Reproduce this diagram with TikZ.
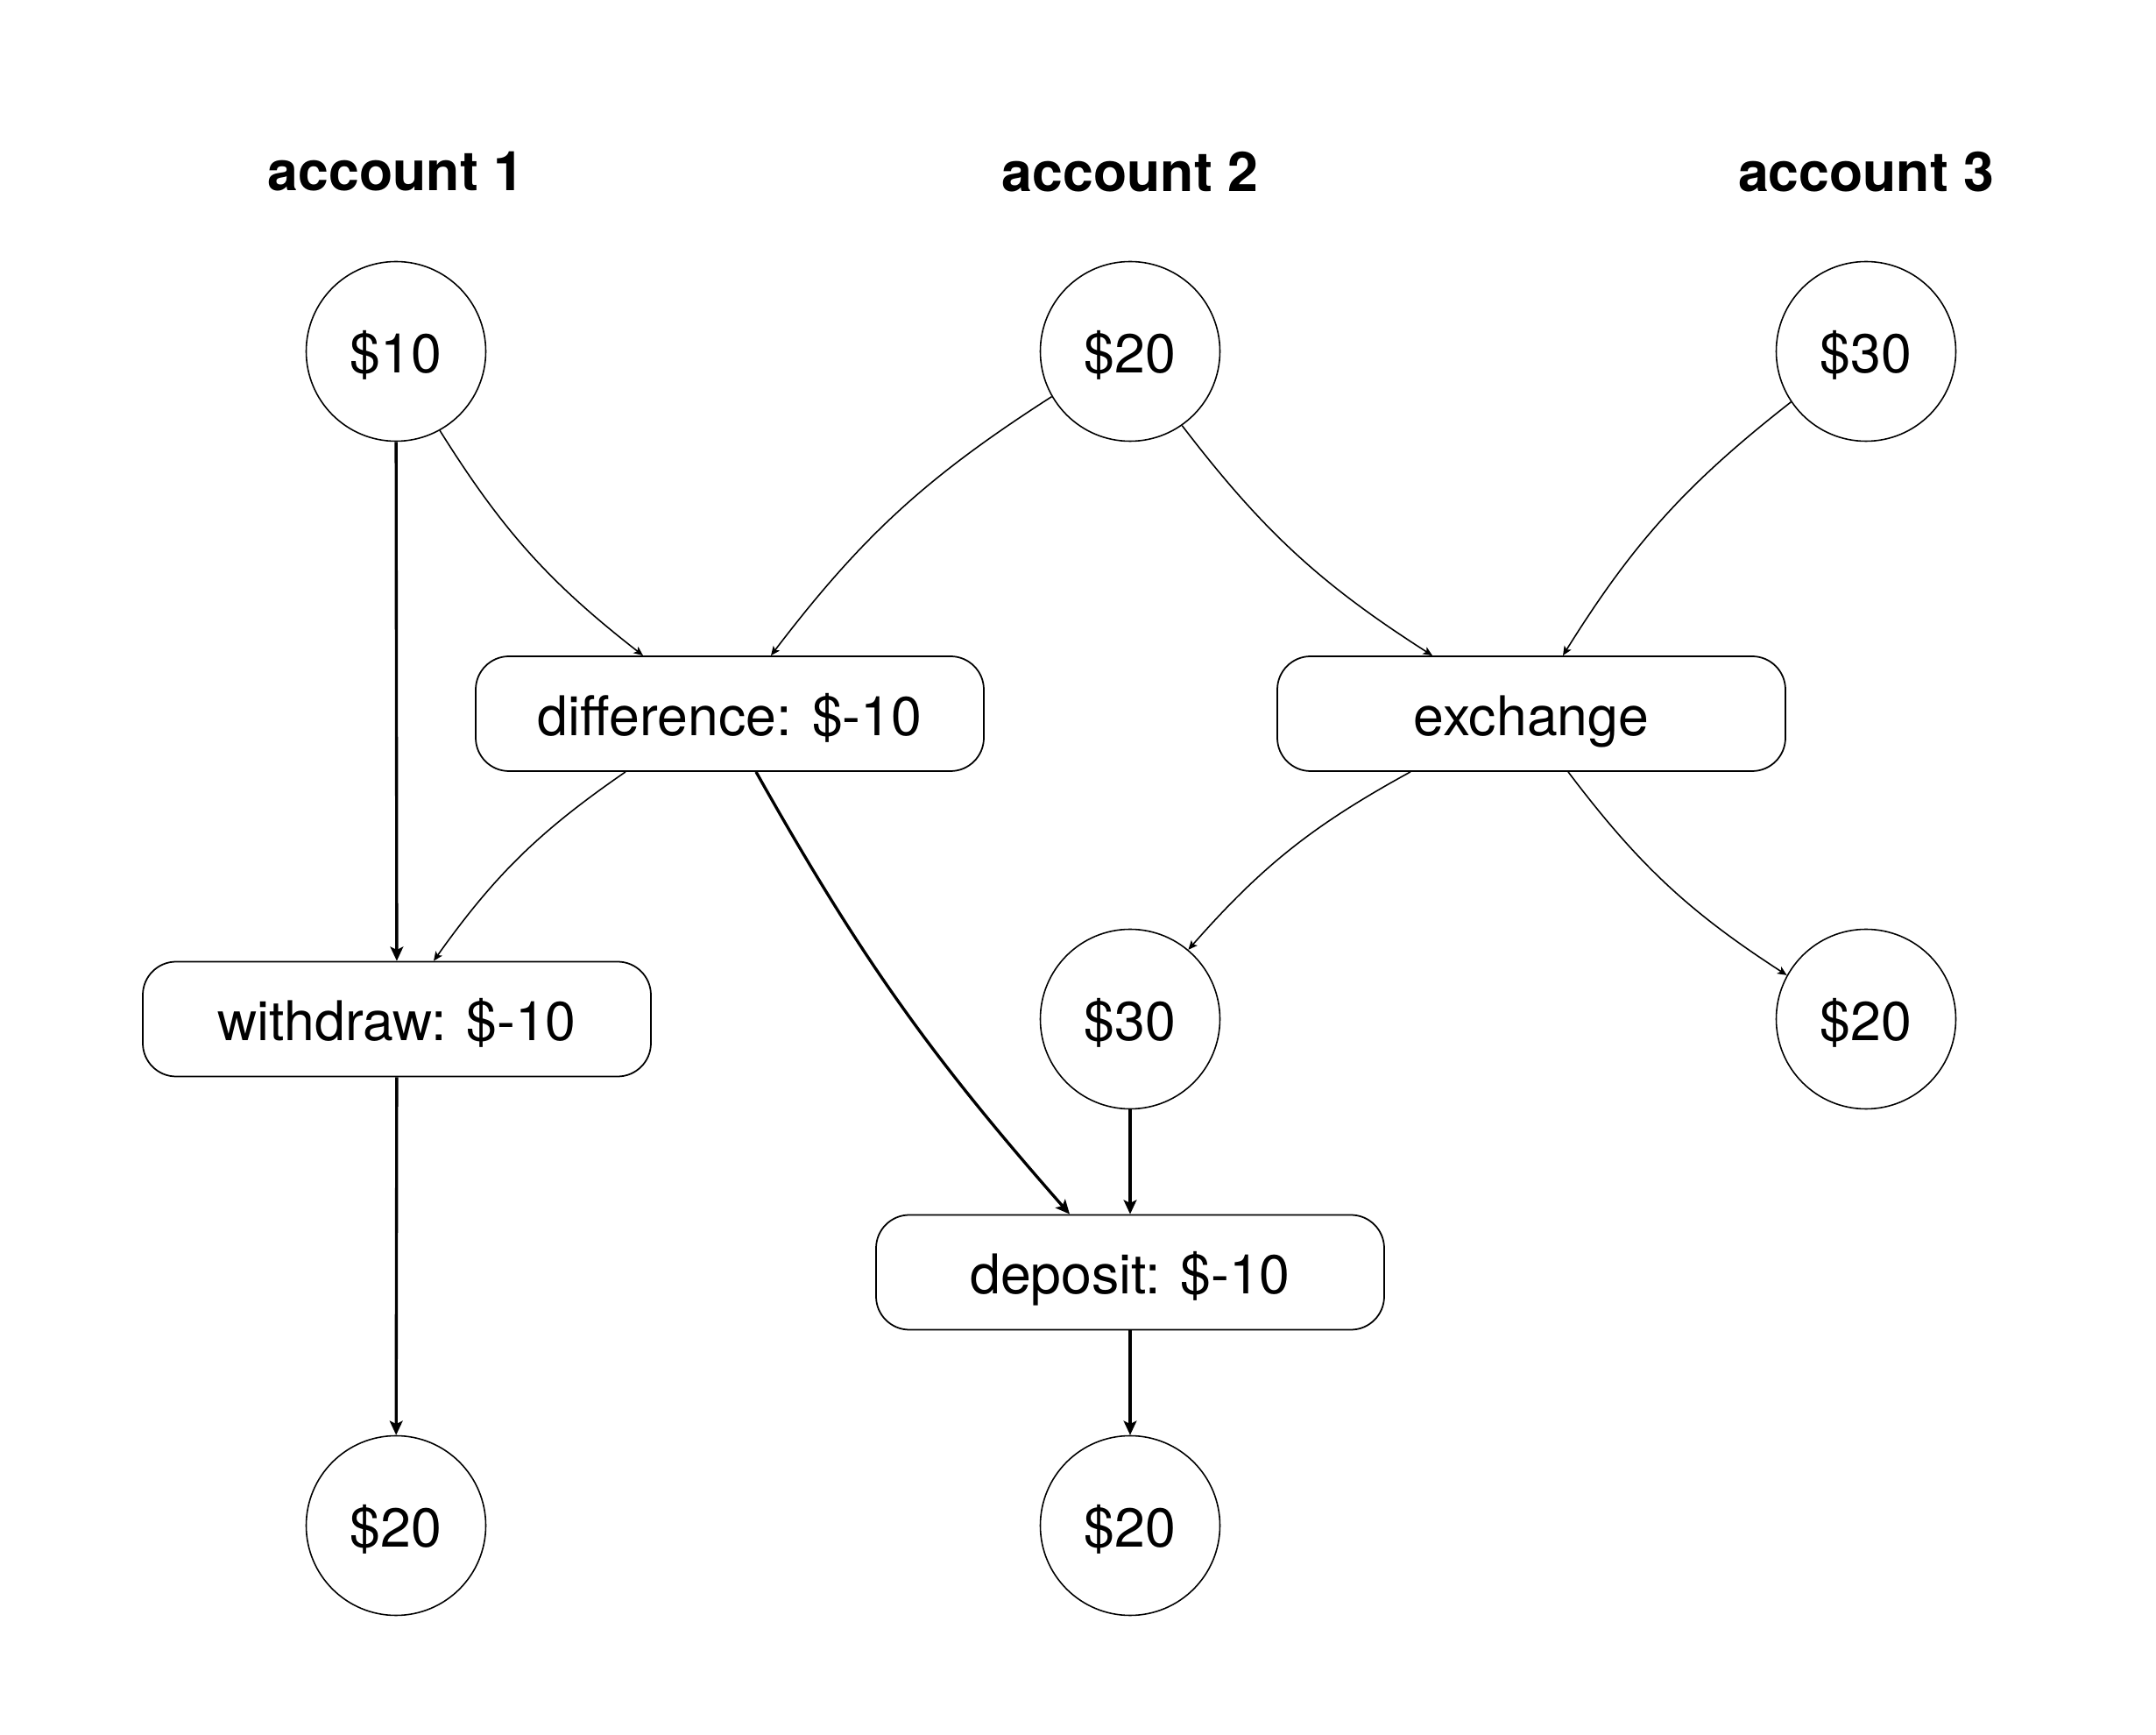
\documentclass[tikz,border=0pt]{standalone}
\usepackage{fontspec}
\setmainfont{TeX Gyre Heros}
\usetikzlibrary{arrows.meta}

\begin{document}
\begin{tikzpicture}[
  font=\fontsize{17.8}{21}\selectfont,
  amount/.style={draw, circle, line width=0.45pt, minimum size=2.05cm, inner sep=0pt,
    text height=15pt, text depth=1pt},
  op/.style={draw, rounded corners=0.38cm, line width=0.5pt,
    minimum width=5.8cm, minimum height=1.31cm, text height=15pt, text depth=1pt},
  head/.style={font=\fontsize{17.8}{21}\selectfont\bfseries},
  flow/.style={line width=0.45pt, -{Stealth[length=3pt, width=2.6pt, inset=0.7pt]}, bend right=10},
  move/.style={line width=0.95pt, -{Stealth[length=4.6pt, width=4.2pt, inset=1pt]}}
]

  \useasboundingbox (0,0) rectangle (24.61,19.79);

  \node[head] (h1) at (4.52,17.83) {account 1};
  \node[head] (h2) at (12.90,17.83) {account 2};
  \node[head] (h3) at (21.30,17.83) {account 3};

  \node[amount] (a1) at (4.52,15.78) {\$10};
  \node[amount] (a2) at (12.90,15.78) {\$20};
  \node[amount] (a3) at (21.30,15.78) {\$30};

  \node[op] (diff) at (8.33,11.645) {difference: \$-10};
  \node[op] (exch) at (17.48,11.645) {exchange};

  \node[op] (wd) at (4.53,8.16) {withdraw: \$-10};
  \node[amount] (b2) at (12.90,8.16) {\$30};
  \node[amount] (b3) at (21.30,8.16) {\$20};

  \node[op] (dep) at (12.90,5.27) {deposit: \$-10};

  \node[amount] (c1) at (4.52,2.38) {\$20};
  \node[amount] (c2) at (12.90,2.38) {\$20};

  \draw[move] (a1) -- (wd); %% a1 -> withdraw
  \draw[move] (wd) -- (c1);
  \draw[move] (b2) -- (dep);
  \draw[move] (dep) -- (c2);
  \draw[move] ([xshift=0.30cm]diff.south) to[bend right=6] ([xshift=-0.69cm]dep.north); %% diff -> deposit

  \draw[flow] (a1.-61) to ([xshift=-0.99cm]diff.north);
  \draw[flow] (a2.-150) to ([xshift=0.47cm]diff.north);
  \draw[flow] (a2.-55) to ([xshift=-1.13cm]exch.north);
  \draw[flow] (a3.-146) to ([xshift=0.36cm]exch.north);

  \draw[flow] ([xshift=-1.19cm]diff.south) to ([xshift=0.42cm]wd.north); %% diff -> withdraw
  \draw[flow] ([xshift=-1.38cm]exch.south) to (b2.50);
  \draw[flow] ([xshift=0.42cm]exch.south) to (b3.151);

\end{tikzpicture}
\end{document}
